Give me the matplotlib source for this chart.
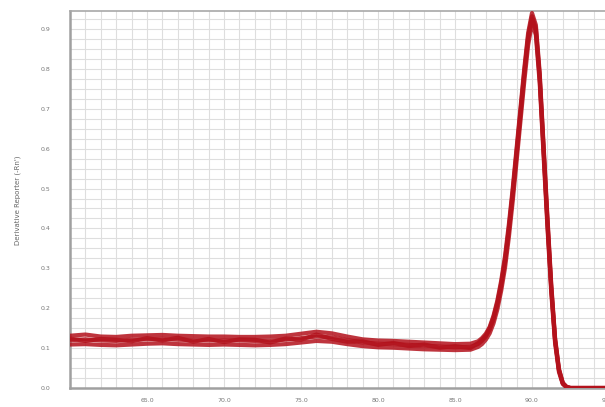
import numpy as np
import matplotlib
matplotlib.use("Agg")
import matplotlib.pyplot as plt
from matplotlib.ticker import MultipleLocator

# Temperature (deg C)
temperature = [60, 61, 62, 63, 64, 65, 66, 67, 68, 69, 70, 71, 72, 73, 74, 75, 76, 77, 78, 79,
               80, 81, 82, 83, 84, 85, 86,
               86.5, 86.75, 87, 87.25, 87.5, 87.75, 88, 88.25, 88.5, 88.75, 89, 89.25, 89.5,
               89.75, 90, 90.25, 90.5, 90.75, 91, 91.25, 91.5, 91.75, 92, 92.25, 92.5,
               93, 94, 95, 96]

rep_upper = [0.131, 0.134, 0.129, 0.128, 0.131, 0.132, 0.133, 0.131, 0.130, 0.129, 0.129, 0.128,
             0.128, 0.129, 0.131, 0.136, 0.141, 0.137, 0.129, 0.122, 0.119, 0.118, 0.116, 0.114,
             0.112, 0.110, 0.111,
             0.117, 0.125, 0.136, 0.153, 0.181, 0.219, 0.269, 0.331, 0.411, 0.501, 0.601, 0.701,
             0.801, 0.890, 0.940, 0.910, 0.790, 0.610, 0.430, 0.260, 0.125, 0.048, 0.013, 0.003,
             0.0, 0.0, 0.0, 0.0, 0.0]

rep_mid = [0.120, 0.122, 0.119, 0.118, 0.121, 0.122, 0.123, 0.121, 0.120, 0.119, 0.120, 0.119,
           0.118, 0.119, 0.121, 0.125, 0.129, 0.127, 0.120, 0.114, 0.111, 0.110, 0.108, 0.106,
           0.104, 0.102, 0.103,
           0.110, 0.118, 0.129, 0.146, 0.172, 0.208, 0.256, 0.316, 0.395, 0.485, 0.585, 0.685,
           0.785, 0.875, 0.925, 0.895, 0.775, 0.595, 0.415, 0.248, 0.118, 0.044, 0.011, 0.002,
           0.0, 0.0, 0.0, 0.0, 0.0]

rep_lower = [0.109, 0.110, 0.108, 0.107, 0.109, 0.111, 0.112, 0.110, 0.109, 0.108, 0.109, 0.108,
             0.107, 0.108, 0.110, 0.114, 0.118, 0.116, 0.110, 0.105, 0.102, 0.101, 0.099, 0.097,
             0.096, 0.095, 0.096,
             0.103, 0.110, 0.121, 0.137, 0.162, 0.197, 0.244, 0.302, 0.379, 0.469, 0.569, 0.669,
             0.769, 0.860, 0.915, 0.885, 0.765, 0.585, 0.405, 0.240, 0.112, 0.040, 0.010, 0.002,
             0.0, 0.0, 0.0, 0.0, 0.0]

rep_extra = [0.124, 0.118, 0.123, 0.121, 0.117, 0.125, 0.119, 0.126, 0.116, 0.123, 0.115, 0.122,
             0.121, 0.114, 0.124, 0.121, 0.134, 0.123, 0.116, 0.117, 0.108, 0.113, 0.105, 0.109,
             0.101, 0.105, 0.100,
             0.113, 0.121, 0.132, 0.150, 0.177, 0.214, 0.262, 0.323, 0.402, 0.493, 0.593, 0.693,
             0.793, 0.882, 0.932, 0.902, 0.782, 0.603, 0.422, 0.254, 0.121, 0.046, 0.012, 0.002,
             0.0, 0.0, 0.0, 0.0, 0.0]

replicates = [rep_upper, rep_mid, rep_lower, rep_extra]

xticks = [65, 70, 75, 80, 85, 90, 95]
xticklabels = ["65.0", "70.0", "75.0", "80.0", "85.0", "90.0", "95.0"]
yticks = [0.0, 0.1, 0.2, 0.3, 0.4, 0.5, 0.6, 0.7, 0.8, 0.9]
yticklabels = ["0.0", "0.1", "0.2", "0.3", "0.4", "0.5", "0.6", "0.7", "0.8", "0.9"]

fig = plt.figure(figsize=(6.05, 4.07), dpi=100)
ax = fig.add_axes([70 / 605, 19 / 407, 550 / 605, 377 / 407])

line_color = "#b3121c"
for rep in replicates:
    ax.plot(temperature, rep, color=line_color, lw=3.0, alpha=0.85, solid_capstyle="round",
            solid_joinstyle="round", zorder=3)

ax.set_xlim(60, 60 + 550 / 15.4)
ax.set_ylim(0, 0.945)

ax.set_xticks(xticks)
ax.set_xticklabels(xticklabels)
ax.set_yticks(yticks)
ax.set_yticklabels(yticklabels)
ax.xaxis.set_minor_locator(MultipleLocator(1))
ax.yaxis.set_minor_locator(MultipleLocator(0.025))

ax.grid(True, which="both", color="#dedede", lw=0.8, zorder=0)
ax.set_axisbelow(True)

ax.tick_params(axis="both", which="both", length=0, labelsize=4.5, labelcolor="#777777")
ax.tick_params(axis="y", pad=14)
ax.tick_params(axis="x", pad=7)

ax.spines["right"].set_visible(False)
ax.spines["left"].set_color("#a0a0a0")
ax.spines["left"].set_linewidth(1.8)
ax.spines["bottom"].set_color("#a0a0a0")
ax.spines["bottom"].set_linewidth(1.8)
ax.spines["top"].set_color("#a8a8a8")
ax.spines["top"].set_linewidth(1.2)

fig.text(18 / 605, 1 - 200 / 407, "Derivative Reporter (-Rn')", rotation=90,
         ha="center", va="center", fontsize=5, color="#666666")

fig.savefig("out.png", dpi=100)
